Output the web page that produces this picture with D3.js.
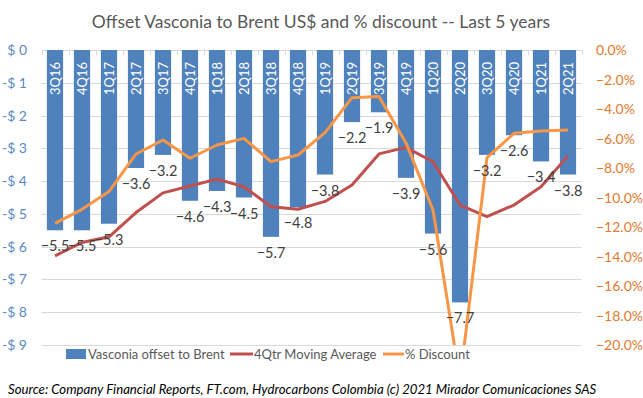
<!DOCTYPE html>
<html>
<head>
<meta charset="utf-8">
<script src="https://cdn.jsdelivr.net/npm/d3@7"></script>
<style>
  body { margin: 0; background: #fff; }
  svg { display: block; font-family: Lato, "Liberation Sans", sans-serif; }
</style>
</head>
<body>
<svg id="chart" width="643" height="398"></svg>
<script>
// quarters shown on the category axis
const quarters = ["3Q16", "4Q16", "1Q17", "2Q17", "3Q17", "4Q17", "1Q18", "2Q18", "3Q18", "4Q18",
                  "1Q19", "2Q19", "3Q19", "4Q19", "1Q20", "2Q20", "3Q20", "4Q20", "1Q21", "2Q21"];
// US$ offset to Brent per quarter
const offset = [-5.5, -5.5, -5.3, -3.6, -3.2, -4.6, -4.3, -4.5, -5.7, -4.8,
                -3.8, -2.2, -1.9, -3.9, -5.6, -7.7, -3.2, -2.6, -3.4, -3.8];
// 4 quarter moving average of the offset
const movingAvg = [-6.28, -5.87, -5.7, -4.96, -4.36, -4.15, -3.94, -4.17, -4.78, -4.86,
                   -4.62, -4.12, -3.17, -2.97, -3.41, -4.73, -5.08, -4.73, -4.17, -3.23];
// % discount to Brent (right axis)
const discount = [-11.75, -10.8, -9.6, -7.05, -6.1, -7.34, -6.44, -5.99, -7.57, -7.12,
                  -5.6, -3.23, -3.16, -6.3, -10.85, -22.4, -7.3, -5.65, -5.49, -5.42];
const leftTicks = [0, -1, -2, -3, -4, -5, -6, -7, -8, -9];
const rightTicks = [0, -2, -4, -6, -8, -10, -12, -14, -16, -18, -20];

const svg = d3.select("#chart");
const plotLeft = 41.5, plotRight = 581.5, plotTop = 50, plotBottom = 345;

const x = d3.scaleBand().domain(quarters).range([plotLeft, plotRight]).paddingInner(0.4).paddingOuter(0.2);
const y = d3.scaleLinear().domain([0, -9]).range([plotTop, plotBottom]);
const y2 = d3.scaleLinear().domain([0, -20]).range([plotTop, plotBottom]);

svg.append("defs").append("clipPath").attr("id", "plot")
    .append("rect").attr("x", 0).attr("y", plotTop).attr("width", 643).attr("height", plotBottom - plotTop);

// title
svg.append("text")
    .attr("x", 321).attr("y", 28)
    .attr("text-anchor", "middle")
    .style("font-size", "17.5px")
    .style("fill", "#595959")
    .text("Offset Vasconia to Brent US$ and % discount -- Last 5 years");

// gridlines
svg.append("g").selectAll("line")
    .data(leftTicks)
    .join("line")
    .attr("x1", plotLeft).attr("x2", plotRight)
    .attr("y1", d => Math.round(y(d)) + 0.5).attr("y2", d => Math.round(y(d)) + 0.5)
    .attr("stroke", "#d9d9d9");

// tick marks of the category axis (at the $0 line)
svg.append("g").selectAll("line")
    .data(d3.range(quarters.length + 1))
    .join("line")
    .attr("x1", i => Math.round(plotLeft + i * x.step()) + 0.5)
    .attr("x2", i => Math.round(plotLeft + i * x.step()) + 0.5)
    .attr("y1", plotTop).attr("y2", plotTop + 5)
    .attr("stroke", "#d9d9d9");

// left axis labels
svg.append("g").selectAll("text")
    .data(leftTicks)
    .join("text")
    .attr("x", 27).attr("y", d => y(d) + 5)
    .attr("text-anchor", "end")
    .style("font-size", "14px")
    .style("fill", "#5a8ac6")
    .text(d => d === 0 ? "$ 0" : "-$ " + Math.abs(d));

// right axis labels
svg.append("g").selectAll("text")
    .data(rightTicks)
    .join("text")
    .attr("x", 596).attr("y", d => y2(d) + 5)
    .style("font-size", "14px")
    .style("fill", "#e3792f")
    .text(d => d3.format(".1f")(d) + "%");

// bars
svg.append("g").selectAll("rect")
    .data(offset)
    .join("rect")
    .attr("x", (d, i) => x(quarters[i]))
    .attr("y", y(0))
    .attr("width", x.bandwidth())
    .attr("height", d => y(d) - y(0))
    .attr("fill", "#4f81bd");

// quarter labels inside the bar tops
svg.append("g").selectAll("text")
    .data(quarters)
    .join("text")
    .attr("transform", d => `translate(${x(d) + x.bandwidth() / 2 + 5},${y(0) + 12}) rotate(-90)`)
    .attr("text-anchor", "end")
    .style("font-size", "13px")
    .style("fill", "#fff")
    .text(d => d);

const line = (scale) => d3.line()
    .x((d, i) => x(quarters[i]) + x.bandwidth() / 2)
    .y(d => scale(d));

// moving average
svg.append("path")
    .datum(movingAvg)
    .attr("clip-path", "url(#plot)")
    .attr("d", line(y))
    .attr("fill", "none")
    .attr("stroke", "#c0504d")
    .attr("stroke-width", 3)
    .attr("stroke-linejoin", "round");

// % discount
svg.append("path")
    .datum(discount)
    .attr("clip-path", "url(#plot)")
    .attr("d", line(y2))
    .attr("fill", "none")
    .attr("stroke", "#f79646")
    .attr("stroke-width", 3)
    .attr("stroke-linejoin", "round");

// value labels below the bar ends
svg.append("g").selectAll("text")
    .data(offset)
    .join("text")
    .attr("x", (d, i) => x(quarters[i]) + x.bandwidth() / 2)
    .attr("y", d => y(d) + 21)
    .attr("text-anchor", "middle")
    .style("font-size", "14.5px")
    .style("fill", "#404040")
    .text(d => d3.format(".1f")(d));

// legend
const legend = svg.append("g").style("font-size", "13px").style("fill", "#595959");
legend.append("rect").attr("x", 66).attr("y", 349).attr("width", 20).attr("height", 10).attr("fill", "#4f81bd");
legend.append("text").attr("x", 88).attr("y", 359).text("Vasconia offset to Brent");
legend.append("line").attr("x1", 230).attr("x2", 253).attr("y1", 354).attr("y2", 354)
    .attr("stroke", "#c0504d").attr("stroke-width", 3);
legend.append("text").attr("x", 254).attr("y", 359).text("4Qtr Moving Average");
legend.append("line").attr("x1", 383).attr("x2", 404).attr("y1", 354).attr("y2", 354)
    .attr("stroke", "#f79646").attr("stroke-width", 3);
legend.append("text").attr("x", 405).attr("y", 359).text("% Discount");

// source note
svg.append("text")
    .attr("x", 8).attr("y", 394)
    .style("font-size", "13.2px")
    .style("font-style", "italic")
    .style("fill", "#000")
    .text("Source:  Company Financial Reports,  FT.com,  Hydrocarbons Colombia (c) 2021 Mirador Comunicaciones SAS");
</script>
</body>
</html>
